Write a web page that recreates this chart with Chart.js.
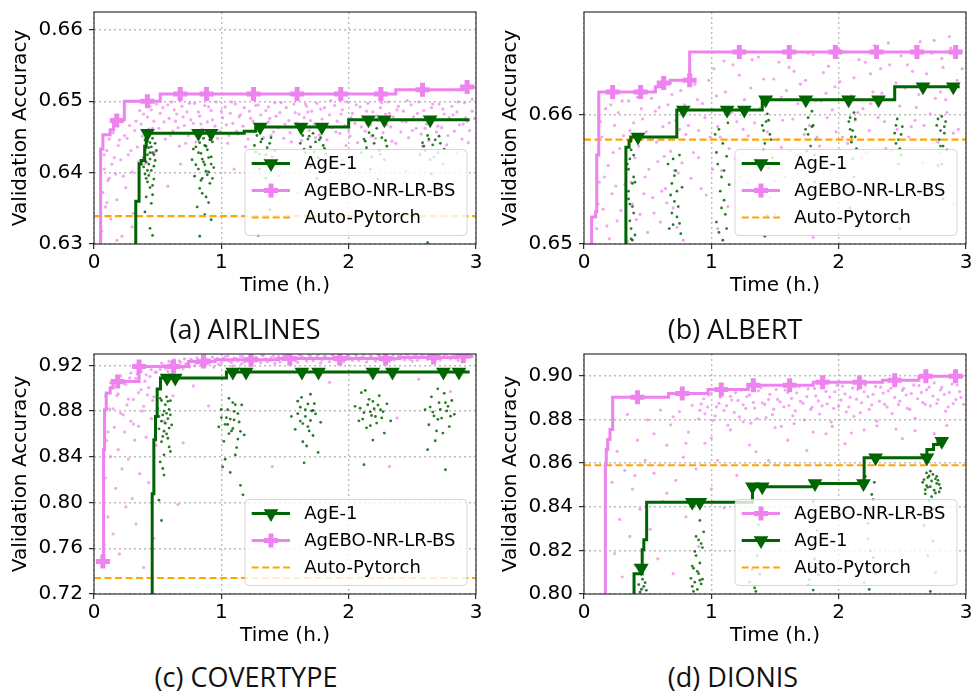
<!DOCTYPE html>
<html lang="en">
<head>
  <meta charset="UTF-8" />
  <title>Validation accuracy vs time</title>
  <script src="https://cdn.jsdelivr.net/npm/chart.js"></script>
  <style>
    body { margin: 0; background: #fff; }
    #wrap { position: relative; width: 978px; height: 694px; }
    canvas { position: absolute; }
    .cap { position: absolute; width: 300px; text-align: center; font: 27px 'Open Sans'; line-height: 27px; color: #111; white-space: nowrap; z-index: 2; }
  </style>
</head>
<body>
<div id="wrap">
  <canvas id="airlines" width="488" height="300" style="left:0;top:0"></canvas>
  <canvas id="albert" width="488" height="300" style="left:490px;top:0"></canvas>
  <canvas id="covertype" width="488" height="310" style="left:0;top:340px"></canvas>
  <canvas id="dionis" width="488" height="310" style="left:490px;top:340px"></canvas>
  <div class="cap" style="left:95px;top:315px">(a) AIRLINES</div>
  <div class="cap" style="left:585px;top:315px">(b) ALBERT</div>
  <div class="cap" style="left:96px;top:663px">(c) COVERTYPE</div>
  <div class="cap" style="left:583px;top:663px">(d) DIONIS</div>
</div>

<script>
  const xTicks = [0, 1, 2, 3];

  // ---- (a) AIRLINES ----
  const airYTicks = [0.63, 0.64, 0.65, 0.66];
  const airAuto = 0.6339;
  const airAgeSteps = [[0.328,0.62],[0.328,0.636],[0.354,0.6412],[0.37,0.6417],[0.398,0.6437],[0.41,0.6455],[1.18,0.6458],[1.27,0.6464],[1.93,0.6464],[2.0,0.6474],[2.95,0.6474]];
  const airAgeMarks = [[0.42,0.6455],[0.82,0.6455],[0.92,0.6455],[1.305,0.6464],[1.626,0.6464],[1.789,0.6464],[2.155,0.6474],[2.28,0.6474],[2.64,0.6474]];
  const airAgeboSteps = [[0.052,0.62],[0.052,0.6433],[0.07,0.6453],[0.127,0.646],[0.153,0.6474],[0.238,0.65],[0.52,0.651],[2.37,0.6516],[2.9,0.652],[2.99,0.652]];
  const airAgeboMarks = [[0.179,0.6473],[0.419,0.65],[0.677,0.651],[0.884,0.651],[1.253,0.651],[1.595,0.651],[1.938,0.651],[2.253,0.651],[2.58,0.6516],[2.93,0.652]];
  const airAgePts = [[0.39,0.6421],[0.4,0.6398],[0.41,0.6435],[0.42,0.6387],[0.43,0.6412],[0.44,0.6442],[0.45,0.6403],[0.46,0.6428],[0.47,0.6391],[0.48,0.6417],[0.4,0.6446],[0.42,0.6425],[0.44,0.6379],[0.46,0.6448],[0.41,0.6366],[0.45,0.6357],[0.43,0.6435],[0.47,0.6409],[0.49,0.6431],[0.4,0.6345],[0.44,0.6322],[0.46,0.6312],
    [0.39,0.6408],[0.4,0.6431],[0.41,0.6415],[0.42,0.6444],[0.43,0.6396],[0.44,0.6419],[0.45,0.6436],[0.46,0.6382],[0.47,0.6425],[0.48,0.6441],[0.42,0.6403],[0.44,0.6428],[0.46,0.6369],[0.41,0.6392],
    [0.77,0.6418],[0.79,0.6395],[0.8,0.6436],[0.82,0.6405],[0.83,0.6378],[0.84,0.6427],[0.85,0.6392],[0.86,0.6448],[0.87,0.6411],[0.88,0.6366],[0.89,0.6432],[0.9,0.6401],[0.91,0.6385],[0.92,0.6422],[0.93,0.6443],[0.94,0.6407],[0.81,0.6352],[0.87,0.6341],[0.9,0.6358],[0.85,0.6419],[0.88,0.6437],[0.92,0.6334],[0.83,0.6311],
    [0.78,0.6433],[0.8,0.6411],[0.82,0.6428],[0.84,0.6389],[0.86,0.6415],[0.87,0.6438],[0.89,0.6397],[0.9,0.6421],[0.91,0.6446],[0.93,0.6392],[0.85,0.6371],[0.88,0.6402],[0.92,0.6412],[0.83,0.6442],
    [1.26,0.6438],[1.28,0.6452],[1.3,0.6426],[1.32,0.6447],[1.34,0.6418],[1.36,0.6435],[1.38,0.6441],[1.4,0.6422],[1.42,0.6431],[1.3,0.6405],[1.35,0.6392],[1.33,0.6375],[1.38,0.6348],[1.29,0.6312],[1.27,0.6429],[1.31,0.6443],[1.35,0.6425],[1.39,0.6449],
    [1.62,0.6441],[1.64,0.6452],[1.66,0.6428],[1.68,0.6447],[1.7,0.6436],[1.72,0.6455],[1.74,0.6443],[1.76,0.6421],[1.78,0.6449],[1.8,0.6438],[1.82,0.6426],[1.7,0.6408],[1.75,0.6392],[1.66,0.6372],[1.65,0.6433],[1.69,0.6451],[1.73,0.6429],[1.77,0.6446],[1.81,0.6434],
    [2.1,0.6428],[2.12,0.6447],[2.14,0.6435],[2.16,0.6456],[2.18,0.6422],[2.2,0.6441],[2.22,0.6462],[2.24,0.6431],[2.26,0.6449],[2.28,0.6418],[2.3,0.6437],[2.17,0.6405],[2.23,0.6391],[2.2,0.6368],[2.13,0.6444],[2.19,0.6452],[2.25,0.6426],[2.29,0.6445],
    [2.56,0.6425],[2.58,0.6442],[2.6,0.6431],[2.62,0.6452],[2.64,0.6418],[2.66,0.6439],[2.68,0.6446],[2.7,0.6428],[2.72,0.6441],[2.74,0.6412],[2.65,0.6398],[2.7,0.6385],[2.62,0.6302],[2.59,0.6437],[2.63,0.6447],[2.67,0.6422],[2.71,0.6451],[2.75,0.6433]];
  const airAgeboPts = [[0.06,0.6318],[0.07,0.6372],[0.08,0.6405],[0.09,0.6352],[0.1,0.6431],[0.11,0.6389],[0.12,0.6447],[0.13,0.6335],[0.14,0.6412],[0.15,0.6456],[0.17,0.6398],[0.18,0.6362],[0.19,0.6438],[0.21,0.6418],[0.22,0.6311],[0.24,0.6452],[0.25,0.6379],[0.27,0.6425],[0.28,0.6466],[0.3,0.6401],[0.31,0.6343],[0.33,0.6472],[0.34,0.6436],[0.36,0.6487],[0.38,0.6451],[0.4,0.6413],[0.42,0.6478],[0.44,0.6493],[0.46,0.6462],[0.48,0.6429],
    [0.08,0.6425],[0.1,0.6358],[0.12,0.6392],[0.16,0.6421],[0.2,0.6446],[0.23,0.6395],[0.26,0.6448],[0.29,0.6431],[0.32,0.6459],[0.35,0.6415],[0.37,0.6468],[0.39,0.6482],[0.41,0.6445],[0.43,0.6461],[0.45,0.6488],[0.47,0.6472],[0.49,0.6496],[0.3,0.6324],[0.18,0.6305],
    [0.52,0.6483],[0.55,0.6471],[0.58,0.6495],[0.6,0.6452],[0.63,0.6488],[0.66,0.6463],[0.7,0.6478],[0.72,0.6441],[0.75,0.6497],[0.78,0.6469],[0.82,0.6485],[0.86,0.6455],[0.9,0.6492],[0.93,0.6474],[0.97,0.6448],[1.0,0.6486],[1.04,0.6467],[1.08,0.6499],[1.12,0.6458],[1.15,0.6481],[1.19,0.6436],[1.23,0.6476],[1.27,0.6494],[1.3,0.6463],[1.35,0.6487],[1.39,0.6452],[1.43,0.6479],[1.47,0.6498],[1.5,0.6468],[1.55,0.6443],[1.58,0.6484],[1.62,0.6461],[1.66,0.6496],[1.7,0.6473],[1.74,0.6449],[1.78,0.6489],[1.82,0.6466],[1.86,0.6501],[1.9,0.6457],[1.94,0.6482],[1.98,0.6438],[2.02,0.6477],[2.06,0.6495],[2.1,0.6464],[2.14,0.6486],[2.18,0.6451],[2.22,0.6479],[2.26,0.6498],[2.3,0.6467],[2.34,0.6444],[2.38,0.6488],[2.42,0.6472],[2.46,0.6501],[2.5,0.6459],[2.54,0.6483],[2.58,0.6437],[2.62,0.6476],[2.66,0.6496],[2.7,0.6465],[2.74,0.6489],[2.78,0.6452],[2.82,0.6481],[2.86,0.6499],[2.9,0.6468],[2.94,0.6442],[2.97,0.6486],
    [0.68,0.6412],[1.1,0.6405],[1.45,0.6395],[1.95,0.6418],[2.45,0.6402],[2.85,0.6428],[0.58,0.6381],[1.6,0.6372],[0.64,0.6472],[0.84,0.6468],[1.06,0.6452],[1.37,0.6471],[1.68,0.6485],[2.0,0.6459],[2.32,0.6483],[2.6,0.6462],[2.92,0.6477],
    [0.51,0.6462],[0.54,0.6491],[0.56,0.6447],[0.59,0.6476],[0.61,0.6499],[0.62,0.6458],[0.65,0.6482],[0.67,0.6437],[0.69,0.6493],[0.71,0.6466],[0.73,0.6485],[0.74,0.6452],[0.76,0.6474],[0.79,0.6497],[0.8,0.6443],[0.83,0.6479],[0.85,0.6461],[0.87,0.6494],[0.89,0.6471],[0.91,0.6446],[0.92,0.6487],[0.95,0.6465],[0.96,0.6499],[0.99,0.6458],[1.01,0.6477],[1.03,0.6492],[1.05,0.6441],[1.07,0.6483],[1.09,0.6469],[1.11,0.6496],[1.13,0.6454],[1.14,0.6478],[1.17,0.6465],[1.18,0.6491],[1.21,0.6447],[1.22,0.6486],[1.25,0.6472],[1.26,0.6458],[1.29,0.6495],[1.31,0.6481],[1.33,0.6449],[1.34,0.6467],[1.37,0.6492],[1.38,0.6476],[1.41,0.6457],[1.42,0.6498],[1.45,0.6463],[1.46,0.6484],[1.49,0.6448],[1.51,0.6491],[1.53,0.6473],[1.54,0.6456],[1.57,0.6496],[1.59,0.6469],[1.61,0.6482],[1.63,0.6445],[1.65,0.6477],[1.67,0.6493],[1.69,0.6459],[1.71,0.6486],[1.73,0.6468],[1.75,0.6497],[1.77,0.6453],[1.79,0.6475],[1.81,0.6491],[1.83,0.6446],[1.85,0.6481],[1.87,0.6463],[1.89,0.6494],[1.91,0.6472],[1.93,0.6455],[1.95,0.6488],[1.97,0.6466],[1.99,0.6499],[2.01,0.6451],[2.03,0.6483],[2.05,0.6469],[2.07,0.6442],[2.09,0.6492],[2.11,0.6476],[2.13,0.6458],[2.15,0.6497],[2.17,0.6467],[2.19,0.6485],[2.21,0.6448],[2.23,0.6473],[2.25,0.6491],[2.27,0.6456],[2.29,0.6482],[2.31,0.6499],[2.33,0.6464],[2.35,0.6478],[2.37,0.6441],[2.39,0.6493],[2.41,0.6457],[2.43,0.6486],[2.45,0.6471],[2.47,0.6449],[2.49,0.6495],[2.51,0.6478],[2.53,0.6462],[2.55,0.6499],[2.57,0.6454],[2.59,0.6487],[2.61,0.6468],[2.63,0.6445],[2.65,0.6491],[2.67,0.6474],[2.69,0.6457],[2.71,0.6496],[2.73,0.6463],[2.75,0.6482],[2.77,0.6439],[2.79,0.6477],[2.81,0.6493],[2.83,0.6458],[2.85,0.6485],[2.87,0.6467],[2.89,0.6447],[2.91,0.6498],[2.93,0.6472],[2.95,0.6459],[2.97,0.6503],[2.99,0.6476]];

  // ---- (b) ALBERT ----
  const albYTicks = [0.65, 0.66];
  const albAuto = 0.6581;
  const albAgeSteps = [[0.329,0.64],[0.329,0.6575],[0.354,0.658],[0.367,0.6583],[0.729,0.6604],[1.4,0.6612],[2.44,0.6622],[2.95,0.6622]];
  const albAgeMarks = [[0.424,0.6583],[0.78,0.6604],[1.124,0.6604],[1.259,0.6604],[1.426,0.6612],[1.742,0.6612],[2.078,0.6612],[2.313,0.6612],[2.662,0.6622],[2.9,0.6622]];
  const albAgeboSteps = [[0.06,0.64],[0.06,0.6521],[0.091,0.6525],[0.1,0.6569],[0.116,0.6618],[0.561,0.6622],[0.612,0.6625],[0.677,0.6627],[0.83,0.6649],[2.97,0.6649]];
  const albAgeboMarks = [[0.225,0.6618],[0.445,0.6618],[0.626,0.6625],[0.83,0.6627],[1.22,0.6649],[1.612,0.6649],[1.974,0.6649],[2.297,0.6649],[2.615,0.6649],[2.918,0.6649]];
  const albAgePts = [[0.34,0.6562],[0.35,0.6541],[0.36,0.6518],[0.37,0.6573],[0.38,0.6529],[0.39,0.6552],[0.4,0.6507],[0.36,0.6566],[0.38,0.6503],[0.35,0.6535],[0.4,0.6548],[0.37,0.6512],[0.39,0.6524],[0.35,0.6558],[0.36,0.6531],[0.38,0.6547],[0.39,0.6569],[0.37,0.6504],
    [0.66,0.6562],[0.68,0.6538],[0.7,0.6515],[0.72,0.6557],[0.74,0.6529],[0.76,0.6508],[0.69,0.6547],[0.73,0.6521],[0.75,0.6569],[0.71,0.6533],[0.67,0.6512],[0.77,0.6544],[0.69,0.6524],[0.71,0.6553],[0.73,0.6541],[0.75,0.6516],[0.7,0.6566],
    [1.03,0.6585],[1.05,0.6562],[1.07,0.6541],[1.09,0.6578],[1.11,0.6523],[1.13,0.6594],[1.06,0.6509],[1.08,0.6552],[1.1,0.6534],[1.12,0.6568],[1.04,0.6517],[1.14,0.6546],[1.09,0.6503],[1.04,0.6571],[1.06,0.6589],[1.08,0.6528],[1.1,0.6557],[1.12,0.6512],
    [1.4,0.6592],[1.42,0.6578],[1.44,0.6601],[1.46,0.6585],[1.48,0.6567],[1.43,0.6595],[1.45,0.6559],[1.41,0.6573],[1.47,0.6541],[1.44,0.6522],[1.42,0.6506],[1.41,0.6588],[1.43,0.6564],[1.45,0.6596],[1.47,0.6581],
    [1.74,0.6589],[1.76,0.6598],[1.78,0.6576],[1.8,0.6592],[1.82,0.6581],[1.77,0.6565],[1.79,0.6603],[1.75,0.6572],[1.81,0.6548],[1.78,0.6518],[1.76,0.6585],[1.79,0.6591],[1.81,0.6569],
    [2.08,0.6595],[2.1,0.6583],[2.12,0.6602],[2.14,0.6574],[2.09,0.6589],[2.11,0.6566],[2.13,0.6597],[2.1,0.6579],[2.12,0.6552],[2.09,0.6528],[2.09,0.6598],[2.11,0.6588],[2.13,0.6583],
    [2.44,0.6586],[2.46,0.6597],[2.48,0.6574],[2.5,0.6591],[2.45,0.6578],[2.47,0.6562],[2.49,0.6585],[2.46,0.6545],[2.48,0.6512],[2.45,0.6592],[2.47,0.6581],[2.49,0.6569],
    [2.77,0.6592],[2.79,0.6581],[2.81,0.6599],[2.83,0.6586],[2.85,0.6573],[2.8,0.6588],[2.82,0.6576],[2.84,0.6595],[2.78,0.6561],[2.82,0.6535],[2.78,0.6597],[2.8,0.6576],[2.83,0.6591],[2.81,0.6562]];
  const albAgeboPts = [[0.1,0.6512],[0.12,0.6548],[0.14,0.6583],[0.15,0.6527],[0.17,0.6605],[0.19,0.6561],[0.2,0.6504],[0.22,0.6539],[0.24,0.6592],[0.26,0.6518],[0.28,0.6574],[0.3,0.6611],[0.32,0.6546],[0.34,0.6502],[0.36,0.6588],[0.38,0.6531],[0.4,0.6567],[0.42,0.6614],[0.44,0.6523],[0.46,0.6597],[0.48,0.6552],[0.5,0.6509],[0.52,0.6581],[0.54,0.6536],[0.56,0.6603],[0.58,0.6564],[0.6,0.6517],[0.62,0.6591],[0.64,0.6543],[0.66,0.6608],[0.68,0.6572],[0.7,0.6528],[0.72,0.6596],[0.74,0.6555],[0.76,0.6619],[0.78,0.6503],[0.8,0.6585],
    [0.11,0.6531],[0.13,0.6595],[0.16,0.6552],[0.18,0.6514],[0.21,0.6608],[0.23,0.6571],[0.25,0.6545],[0.27,0.6602],[0.29,0.6526],[0.31,0.6584],[0.33,0.6563],[0.35,0.6611],[0.37,0.6548],[0.39,0.6594],[0.41,0.6519],[0.43,0.6576],[0.45,0.6605],[0.47,0.6539],[0.49,0.6587],[0.51,0.6558],[0.53,0.6613],[0.55,0.6524],[0.57,0.6579],[0.59,0.6606],[0.61,0.6541],[0.63,0.6568],[0.65,0.6532],[0.67,0.6594],[0.69,0.6616],[0.71,0.6557],[0.73,0.6513],[0.75,0.6589],[0.77,0.6563],[0.79,0.6608],
    [0.83,0.6634],[0.86,0.6571],[0.89,0.6612],[0.92,0.6543],[0.95,0.6598],[0.98,0.6627],[1.01,0.6558],[1.04,0.6615],[1.07,0.6583],[1.1,0.6642],[1.13,0.6529],[1.16,0.6602],[1.19,0.6566],[1.22,0.6631],[1.25,0.6589],[1.28,0.6547],[1.31,0.6621],[1.34,0.6594],[1.37,0.6645],[1.4,0.6562],[1.43,0.6608],[1.46,0.6536],[1.49,0.6628],[1.52,0.6581],[1.55,0.6614],[1.58,0.6552],[1.61,0.6637],[1.64,0.6597],[1.67,0.6569],[1.7,0.6624],[1.73,0.6585],[1.76,0.6648],[1.79,0.6541],[1.82,0.6611],[1.85,0.6576],[1.88,0.6633],[1.91,0.6598],[1.94,0.6557],[1.97,0.6622],[2.0,0.6651],[2.03,0.6583],[2.06,0.6614],[2.09,0.6538],[2.12,0.6629],[2.15,0.6602],[2.18,0.6567],[2.21,0.6641],[2.24,0.6588],[2.27,0.6618],[2.3,0.6551],[2.33,0.6636],[2.36,0.6595],[2.39,0.6656],[2.42,0.6572],[2.45,0.6625],[2.48,0.6607],[2.51,0.6544],[2.54,0.6639],[2.57,0.6591],[2.6,0.6653],[2.63,0.6616],[2.66,0.6563],[2.69,0.6632],[2.72,0.6601],[2.75,0.6658],[2.78,0.6579],[2.81,0.6644],[2.84,0.6612],[2.87,0.6661],[2.9,0.6586],[2.93,0.6627],[2.96,0.6649],
    [1.05,0.6512],[1.5,0.6523],[2.0,0.6508],[2.5,0.6519],[2.9,0.6531],[1.8,0.6505],[0.9,0.6588],[1.2,0.6604],[1.55,0.6575],[1.9,0.6617],[2.25,0.6609],[2.6,0.6596],[2.8,0.6618],
    [0.82,0.6592],[0.84,0.6551],[0.87,0.6624],[0.9,0.6567],[0.93,0.6609],[0.96,0.6538],[0.99,0.6583],[1.02,0.6636],[1.05,0.6591],[1.08,0.6557],[1.11,0.6618],[1.14,0.6574],[1.17,0.6639],[1.2,0.6595],[1.23,0.6552],[1.26,0.6612],[1.29,0.6584],[1.32,0.6643],[1.35,0.6566],[1.38,0.6605],[1.41,0.6628],[1.44,0.6587],[1.47,0.6614],[1.5,0.6549],[1.53,0.6641],[1.56,0.6596],[1.59,0.6619],[1.62,0.6572],[1.65,0.6634],[1.68,0.6609],[1.71,0.6558],[1.74,0.6627],[1.77,0.6592],[1.8,0.6647],[1.83,0.6583],[1.86,0.6611],[1.89,0.6562],[1.92,0.6638],[1.95,0.6604],[1.98,0.6587],[2.01,0.6626],[2.04,0.6649],[2.07,0.6578],[2.1,0.6615],[2.13,0.6596],[2.16,0.6643],[2.19,0.6605],[2.22,0.6571],[2.25,0.6632],[2.28,0.6654],[2.31,0.6598],[2.34,0.6617],[2.37,0.6574],[2.4,0.6639],[2.43,0.6612],[2.46,0.6589],[2.49,0.6646],[2.52,0.6621],[2.55,0.6583],[2.58,0.6634],[2.61,0.6606],[2.64,0.6657],[2.67,0.6592],[2.7,0.6624],[2.73,0.6648],[2.76,0.6613],[2.79,0.6571],[2.82,0.6637],[2.85,0.6602],[2.88,0.6652],[2.91,0.6619],[2.94,0.6589],[2.97,0.6636]];

  // ---- (c) COVERTYPE ----
  const covYTicks = [0.72, 0.76, 0.80, 0.84, 0.88, 0.92];
  const covAuto = 0.734;
  const covAgeSteps = [[0.457,0.70],[0.457,0.8078],[0.47,0.855],[0.483,0.8754],[0.496,0.8994],[0.522,0.909],[1.04,0.9142],[2.95,0.9142]];
  const covAgeMarks = [[0.574,0.909],[0.638,0.909],[1.09,0.9142],[1.194,0.9142],[1.633,0.9142],[1.763,0.9142],[2.19,0.9142],[2.344,0.9142],[2.744,0.9142],[2.866,0.9142]];
  const covAgeboSteps = [[0.07,0.7485],[0.075,0.8462],[0.083,0.8813],[0.096,0.8959],[0.127,0.9002],[0.15,0.906],[0.354,0.9191],[0.742,0.9235],[0.95,0.925],[1.45,0.926],[2.4,0.927],[2.85,0.928],[2.98,0.928]];
  const covAgeboMarks = [[0.07,0.7485],[0.186,0.906],[0.354,0.9191],[0.625,0.9191],[0.86,0.9235],[1.233,0.925],[1.538,0.926],[1.93,0.926],[2.29,0.926],[2.667,0.927],[2.9,0.928]];
  const covAgePts = [[0.5,0.8823],[0.51,0.8645],[0.52,0.8912],[0.53,0.8532],[0.54,0.8767],[0.55,0.8418],[0.56,0.8856],[0.57,0.8601],[0.58,0.8734],[0.59,0.8487],[0.6,0.8892],[0.61,0.8679],[0.52,0.8356],[0.55,0.8801],[0.57,0.8925],[0.53,0.8712],[0.58,0.8563],[0.6,0.8447],[0.54,0.8298],[0.56,0.8694],[0.59,0.8815],[0.51,0.8021],[0.53,0.7843],[0.55,0.8241],
    [0.51,0.8754],[0.53,0.8893],[0.55,0.8625],[0.57,0.8781],[0.59,0.8652],[0.6,0.8768],[0.54,0.8579],[0.58,0.8886],
    [0.98,0.8662],[1.0,0.8815],[1.02,0.8536],[1.04,0.8743],[1.06,0.8912],[1.08,0.8627],[1.1,0.8798],[1.12,0.8481],[1.14,0.8705],[1.16,0.8854],[1.18,0.8592],[1.03,0.8379],[1.07,0.8264],[1.11,0.8417],[1.15,0.8151],[1.05,0.8683],[1.09,0.8875],[1.13,0.8556],[1.01,0.8312],[1.17,0.8068],[1.1,0.8723],[1.06,0.8604],
    [1.0,0.8744],[1.03,0.8685],[1.05,0.8812],[1.07,0.8731],[1.09,0.8648],[1.11,0.8857],[1.13,0.8779],[1.15,0.8623],
    [1.55,0.8754],[1.58,0.8641],[1.6,0.8887],[1.62,0.8713],[1.64,0.8532],[1.66,0.8812],[1.68,0.8665],[1.7,0.8948],[1.72,0.8587],[1.74,0.8776],[1.76,0.8439],[1.78,0.8702],[1.63,0.8921],[1.67,0.8495],[1.71,0.8802],[1.65,0.8348],[1.69,0.8627],[1.73,0.8865],
    [1.6,0.8778],[1.62,0.8835],[1.64,0.8691],[1.66,0.8754],[1.68,0.8863],[1.7,0.8718],[1.72,0.8806],
    [2.05,0.8842],[2.08,0.8715],[2.1,0.8962],[2.12,0.8787],[2.14,0.8654],[2.16,0.8903],[2.18,0.8762],[2.2,0.8821],[2.22,0.8696],[2.24,0.8935],[2.26,0.8741],[2.28,0.8608],[2.3,0.8864],[2.19,0.8547],[2.13,0.8981],[2.23,0.8853],[2.17,0.8673],[2.27,0.8795],[2.12,0.8332],[2.33,0.8714],
    [2.09,0.8826],[2.11,0.8731],[2.15,0.8857],[2.17,0.8794],[2.19,0.8886],[2.21,0.8753],[2.25,0.8812],
    [2.6,0.8812],[2.63,0.8681],[2.65,0.8925],[2.67,0.8758],[2.69,0.8627],[2.71,0.8874],[2.73,0.8739],[2.75,0.8956],[2.77,0.8802],[2.79,0.8665],[2.81,0.8893],[2.83,0.8772],[2.68,0.8541],[2.74,0.8608],[2.7,0.8995],[2.78,0.8842],[2.62,0.8463],[2.76,0.8287],
    [2.64,0.8836],[2.66,0.8792],[2.7,0.8728],[2.72,0.8815],[2.76,0.8874],[2.8,0.8756]];
  const covAgeboPts = [[0.08,0.7632],[0.09,0.8215],[0.1,0.8543],[0.11,0.7874],[0.12,0.8821],[0.13,0.8402],[0.14,0.9012],[0.15,0.7725],[0.16,0.8658],[0.17,0.8125],[0.18,0.8936],[0.19,0.8463],[0.2,0.7551],[0.21,0.8782],[0.22,0.8294],[0.23,0.9043],[0.24,0.8617],[0.25,0.7963],[0.26,0.8854],[0.27,0.8381],[0.28,0.9091],[0.29,0.8712],[0.3,0.8035],[0.31,0.8902],[0.32,0.8546],[0.33,0.7812],[0.34,0.9124],[0.35,0.8668],[0.36,0.8253],[0.37,0.8987],[0.38,0.8801],[0.39,0.7432],[0.4,0.9062],[0.41,0.8572],[0.42,0.8942],[0.43,0.8175],[0.44,0.9103],[0.45,0.8734],[0.46,0.8893],[0.47,0.7688],[0.48,0.9141],[0.49,0.8502],
    [0.09,0.8934],[0.11,0.8618],[0.13,0.9048],[0.15,0.8821],[0.17,0.9072],[0.19,0.8952],[0.21,0.9108],[0.23,0.8768],[0.25,0.9035],[0.27,0.8906],[0.29,0.9134],[0.31,0.8687],[0.33,0.9087],[0.35,0.8962],[0.37,0.9152],[0.39,0.8843],[0.41,0.9118],[0.43,0.9006],[0.45,0.9163],[0.47,0.8925],[0.49,0.9142],
    [0.52,0.9165],[0.55,0.9202],[0.58,0.9148],[0.61,0.9221],[0.64,0.9183],[0.67,0.9239],[0.7,0.9172],[0.73,0.9211],[0.76,0.9253],[0.79,0.9195],[0.82,0.9234],[0.85,0.9268],[0.88,0.9206],[0.91,0.9247],[0.94,0.9185],[0.97,0.9262],[1.0,0.9224],[1.03,0.9275],[1.06,0.9238],[1.09,0.9196],[1.12,0.9259],[1.15,0.9281],[1.18,0.9229],[1.21,0.9265],[1.24,0.9212],[1.27,0.9273],[1.3,0.9245],[1.33,0.9286],[1.36,0.9232],[1.39,0.9268],[1.42,0.9218],[1.45,0.9279],[1.48,0.9251],[1.51,0.9289],[1.54,0.9236],[1.57,0.9271],[1.6,0.9226],[1.63,0.9284],[1.66,0.9257],[1.69,0.9292],[1.72,0.9241],[1.75,0.9276],[1.78,0.9222],[1.81,0.9283],[1.84,0.9262],[1.87,0.9295],[1.9,0.9247],[1.93,0.9278],[1.96,0.9231],[1.99,0.9288],[2.02,0.9264],[2.05,0.9297],[2.08,0.9243],[2.11,0.9274],[2.14,0.9229],[2.17,0.9286],[2.2,0.9258],[2.23,0.9293],[2.26,0.9246],[2.29,0.9277],[2.32,0.9235],[2.35,0.9289],[2.38,0.9261],[2.41,0.9296],[2.44,0.9249],[2.47,0.9281],[2.5,0.9238],[2.53,0.9291],[2.56,0.9266],[2.59,0.9298],[2.62,0.9252],[2.65,0.9284],[2.68,0.9241],[2.71,0.9293],[2.74,0.9269],[2.77,0.9299],[2.8,0.9256],[2.83,0.9287],[2.86,0.9244],[2.89,0.9295],[2.92,0.9272],[2.95,0.9298],
    [0.51,0.9188],[0.53,0.9221],[0.56,0.9175],[0.59,0.9236],[0.6,0.9204],[0.63,0.9249],[0.65,0.9192],[0.68,0.9228],[0.71,0.9257],[0.72,0.9213],[0.75,0.9186],[0.77,0.9242],[0.8,0.9219],[0.81,0.9266],[0.84,0.9201],[0.86,0.9238],[0.89,0.9255],[0.9,0.9217],[0.93,0.9272],[0.95,0.9233],[0.98,0.9209],[1.01,0.9261],[1.02,0.9244],[1.05,0.9283],[1.08,0.9227],[1.1,0.9266],[1.13,0.9239],[1.16,0.9214],[1.17,0.9276],[1.2,0.9251],[1.23,0.9288],[1.25,0.9236],[1.28,0.9262],[1.31,0.9224],[1.32,0.9291],[1.35,0.9258],[1.38,0.9243],[1.41,0.9282],[1.43,0.9265],[1.46,0.9229],[1.49,0.9287],[1.52,0.9254],[1.55,0.9276],[1.58,0.9241],[1.61,0.9293],[1.64,0.9268],[1.67,0.9237],[1.7,0.9281],[1.73,0.9259],[1.76,0.9294],[1.79,0.9248],[1.82,0.9272],[1.85,0.9233],[1.88,0.9286],[1.91,0.9263],[1.94,0.9297],[1.97,0.9252],[2.0,0.9279],[2.03,0.9244],[2.06,0.9285],[2.09,0.9268],[2.12,0.9295],[2.15,0.9256],[2.18,0.9274],[2.21,0.9239],[2.24,0.9289],[2.27,0.9262],[2.3,0.9296],[2.33,0.9271],[2.36,0.9248],[2.39,0.9283],[2.42,0.9265],[2.45,0.9298],[2.48,0.9253],[2.51,0.9279],[2.54,0.9245],[2.57,0.9288],[2.6,0.9271],[2.63,0.9297],[2.66,0.9259],[2.69,0.9282],[2.72,0.9248],[2.75,0.9291],[2.78,0.9274],[2.81,0.9298],[2.84,0.9263],[2.87,0.9285],[2.9,0.9252],[2.93,0.9289],[2.96,0.9275],
    [0.55,0.8712],[0.62,0.8934],[0.7,0.8523],[0.78,0.9021],[0.9,0.8845],[1.4,0.8315],[1.85,0.9052],[2.32,0.8316],[2.38,0.8741],[2.55,0.9078],[2.8,0.8972],[0.66,0.7985]];

  // ---- (d) DIONIS ----
  const dioYTicks = [0.80, 0.82, 0.84, 0.86, 0.88, 0.90];
  const dioAuto = 0.859;
  const dioAgeSteps = [[0.393,0.79],[0.393,0.8093],[0.457,0.8203],[0.47,0.8249],[0.492,0.842],[1.323,0.8491],[1.814,0.8506],[2.2,0.8624],[2.693,0.8662],[2.745,0.8685],[2.78,0.87],[2.82,0.87]];
  const dioAgeMarks = [[0.45,0.8119],[0.85,0.842],[0.91,0.842],[1.323,0.8491],[1.40,0.8491],[1.814,0.8506],[2.195,0.8506],[2.29,0.8624],[2.693,0.8624],[2.81,0.87]];
  const dioAgeboSteps = [[0.168,0.79],[0.168,0.8593],[0.175,0.8662],[0.186,0.8708],[0.204,0.8754],[0.225,0.8902],[0.664,0.8919],[0.974,0.8937],[1.29,0.8957],[1.8,0.8971],[2.344,0.898],[2.63,0.8998],[2.98,0.8998]];
  const dioAgeboMarks = [[0.42,0.8902],[0.772,0.8919],[1.078,0.8937],[1.33,0.8957],[1.615,0.8957],[1.874,0.8971],[2.163,0.8971],[2.44,0.898],[2.685,0.8998],[2.918,0.8998]];
  const dioAgePts = [[0.43,0.8043],[0.45,0.8021],[0.46,0.8068],[0.47,0.8035],[0.48,0.8052],[0.44,0.8009],[0.49,0.8017],
    [0.84,0.8072],[0.85,0.8035],[0.86,0.8118],[0.87,0.8054],[0.88,0.8176],[0.89,0.8021],[0.9,0.8093],[0.91,0.8142],[0.92,0.8046],[0.93,0.8213],[0.94,0.8285],[0.88,0.8264],[0.91,0.8337],[0.86,0.8012],[0.9,0.8248],[0.93,0.8068],
    [0.85,0.8128],[0.87,0.8195],[0.89,0.8104],[0.91,0.8063],[0.92,0.8231],
    [1.3,0.8054],[1.32,0.8112],[1.34,0.8028],[1.36,0.8176],[1.38,0.8091],[1.33,0.8243],[1.35,0.8012],[1.37,0.8317],
    [1.76,0.8043],[1.78,0.8125],[1.8,0.8018],[1.82,0.8234],[1.84,0.8087],[1.79,0.8352],[1.81,0.8161],[1.83,0.8292],[1.77,0.8065],[1.8,0.8423],[1.77,0.8142],[1.79,0.8215],[1.83,0.8118],
    [2.2,0.8053],[2.22,0.8134],[2.24,0.8021],[2.26,0.8456],[2.28,0.8512],[2.23,0.8253],[2.25,0.8395],[2.27,0.8167],[2.21,0.8538],[2.29,0.8094],[2.23,0.8324],[2.25,0.8198],[2.27,0.8432],
    [2.66,0.8512],[2.68,0.8478],[2.7,0.8534],[2.72,0.8492],[2.74,0.8548],[2.76,0.8463],[2.78,0.8521],[2.8,0.8485],[2.69,0.8555],[2.73,0.8446],[2.77,0.8507],[2.71,0.8427],[2.75,0.8391],[2.79,0.8468],[2.67,0.8315],[2.74,0.8243],[2.7,0.8176],[2.76,0.8098],[2.72,0.8012],
    [2.67,0.8524],[2.69,0.8497],[2.71,0.8541],[2.73,0.8518],[2.75,0.8476],[2.77,0.8539],[2.79,0.8502],[2.68,0.8459],[2.72,0.8563],[2.76,0.8528],[2.7,0.8489]];
  const dioAgeboPts = [[0.22,0.8512],[0.24,0.8185],[0.26,0.8654],[0.28,0.8342],[0.3,0.8078],[0.32,0.8567],[0.34,0.8823],[0.36,0.8264],[0.38,0.8481],[0.4,0.8132],[0.42,0.8705],[0.44,0.8389],[0.46,0.8026],[0.48,0.8612],[0.5,0.8798],[0.52,0.8297],[0.55,0.8554],[0.58,0.8161],[0.6,0.8843],[0.62,0.8425],[0.65,0.8682],[0.68,0.8775],[0.7,0.8093],[0.72,0.8521],[0.75,0.8836],[0.78,0.8627],[0.8,0.8354],[0.82,0.8742],[0.85,0.8865],[0.88,0.8573],[0.9,0.8218],[0.95,0.8691],[1.0,0.8482],[1.05,0.8612],[1.1,0.8395],[1.2,0.8544],[1.3,0.8683],[1.45,0.8612],[1.6,0.8705],[1.75,0.8658],[1.9,0.8734],[2.05,0.8689],[2.2,0.8752],[2.5,0.8712],[2.75,0.8735],
    [0.4,0.8543],[0.55,0.8734],[0.65,0.8462],[0.7,0.8812],[0.8,0.8691],[0.9,0.8803],[1.0,0.8715],[1.15,0.8752],[1.25,0.8789],[1.35,0.8652],[1.5,0.8763],[1.65,0.8781],[1.8,0.8742],[1.95,0.8768],[2.1,0.8738],[2.3,0.8771],[2.45,0.8756],[2.6,0.8749],[2.85,0.8772],
    [0.92,0.8871],[0.95,0.8826],[0.98,0.8912],[1.01,0.8795],[1.04,0.8858],[1.07,0.8902],[1.1,0.8841],[1.13,0.8774],[1.16,0.8889],[1.19,0.8923],[1.22,0.8812],[1.25,0.8867],[1.28,0.8905],[1.31,0.8783],[1.34,0.8852],[1.37,0.8931],[1.4,0.8876],[1.43,0.8809],[1.46,0.8915],[1.49,0.8847],[1.52,0.8892],[1.55,0.8768],[1.58,0.8935],[1.61,0.8864],[1.64,0.8817],[1.67,0.8922],[1.7,0.8883],[1.73,0.8798],[1.76,0.8941],[1.79,0.8856],[1.82,0.8908],[1.85,0.8825],[1.88,0.8946],[1.91,0.8872],[1.94,0.8789],[1.97,0.8927],[2.0,0.8861],[2.03,0.8953],[2.06,0.8835],[2.09,0.8902],[2.12,0.8814],[2.15,0.8938],[2.18,0.8877],[2.21,0.8957],[2.24,0.8846],[2.27,0.8915],[2.3,0.8792],[2.33,0.8948],[2.36,0.8869],[2.39,0.8931],[2.42,0.8827],[2.45,0.8962],[2.48,0.8884],[2.51,0.8942],[2.54,0.8851],[2.57,0.8918],[2.6,0.8805],[2.63,0.8955],[2.66,0.8878],[2.69,0.8936],[2.72,0.8862],[2.75,0.8968],[2.78,0.8891],[2.81,0.8947],[2.84,0.8838],[2.87,0.8924],[2.9,0.8873],[2.93,0.8958],[2.96,0.8901],
    [0.91,0.8842],[0.94,0.8895],[0.97,0.8857],[1.0,0.8921],[1.03,0.8816],[1.06,0.8874],[1.09,0.8928],[1.12,0.8863],[1.15,0.8906],[1.18,0.8832],[1.21,0.8887],[1.24,0.8935],[1.27,0.8851],[1.3,0.8913],[1.33,0.8878],[1.36,0.8804],[1.39,0.8946],[1.42,0.8869],[1.45,0.8892],[1.48,0.8822],[1.51,0.8937],[1.54,0.8881],[1.57,0.8858],[1.6,0.8924],[1.63,0.8897],[1.66,0.8839],[1.69,0.8951],[1.72,0.8874],[1.75,0.8905],[1.78,0.8846],[1.81,0.8942],[1.84,0.8885],[1.87,0.8862],[1.9,0.8929],[1.93,0.8903],[1.96,0.8851],[1.99,0.8956],[2.02,0.8889],[2.05,0.8917],[2.08,0.8858],[2.11,0.8944],[2.14,0.8893],[2.17,0.8831],[2.2,0.8927],[2.23,0.8905],[2.26,0.8867],[2.29,0.8952],[2.32,0.8884],[2.35,0.8921],[2.38,0.8857],[2.41,0.8943],[2.44,0.8901],[2.47,0.8868],[2.5,0.8933],[2.53,0.8912],[2.56,0.8846],[2.59,0.8957],[2.62,0.8895],[2.65,0.8924],[2.68,0.8869],[2.71,0.8948],[2.74,0.8907],[2.77,0.8873],[2.8,0.8936],[2.83,0.8915],[2.86,0.8858],[2.89,0.8962],[2.92,0.8891],[2.95,0.8928],[2.98,0.8869]];

  const GREEN = '#006400', PINK = '#ee82ee', ORANGE = '#ffa500';
  const xy = a => a.map(([x, y]) => ({ x, y }));

  Chart.defaults.font.family = "'DejaVu Sans', sans-serif";
  Chart.defaults.color = '#000';

  const KEY = {
    age: { label: 'AgE-1', color: GREEN, lw: 3, marker: 'tri' },
    agebo: { label: 'AgEBO-NR-LR-BS', color: PINK, lw: 3, marker: 'plus' },
    auto: { label: 'Auto-Pytorch', color: ORANGE, lw: 2.2, dash: [7, 3.5] }
  };

  function drawMarker(ctx, kind, x, y, color) {
    ctx.save();
    if (kind === 'tri') {
      const r = 8.5;
      ctx.fillStyle = color;
      ctx.beginPath();
      ctx.moveTo(x, y + r);
      ctx.lineTo(x - r * 0.866, y - r / 2);
      ctx.lineTo(x + r * 0.866, y - r / 2);
      ctx.closePath();
      ctx.fill();
    } else if (kind === 'plus') {
      ctx.strokeStyle = color;
      ctx.lineWidth = 5;
      ctx.beginPath();
      ctx.moveTo(x - 7, y); ctx.lineTo(x + 7, y);
      ctx.moveTo(x, y - 7); ctx.lineTo(x, y + 7);
      ctx.stroke();
    }
    ctx.restore();
  }

  function framePlugin(keys) {
    return {
      id: 'frameKey',
      afterDatasetsDraw(chart) {
        const { ctx, chartArea: a } = chart;
        ctx.save();
        ctx.strokeStyle = '#222';
        ctx.lineWidth = 1.1;
        ctx.strokeRect(a.left, a.top, a.right - a.left, a.bottom - a.top);

        // legend box, lower right
        const w = 222, h = 86;
        const bx = a.right - 9 - w, by = a.bottom - 8.5 - h;
        ctx.beginPath();
        ctx.roundRect(bx, by, w, h, 4);
        ctx.fillStyle = 'rgba(255,255,255,0.8)';
        ctx.fill();
        ctx.strokeStyle = 'rgba(204,204,204,0.8)';
        ctx.lineWidth = 1;
        ctx.stroke();
        keys.forEach((k, i) => {
          const it = KEY[k];
          const cy = by + 14 + i * 27;
          ctx.beginPath();
          ctx.setLineDash(it.dash || []);
          ctx.strokeStyle = it.color;
          ctx.lineWidth = it.lw;
          ctx.moveTo(bx + 6.7, cy);
          ctx.lineTo(bx + 45, cy);
          ctx.stroke();
          ctx.setLineDash([]);
          if (it.marker) drawMarker(ctx, it.marker, bx + 26, cy, it.color);
          ctx.fillStyle = '#000';
          ctx.font = "18px 'DejaVu Sans'";
          ctx.textBaseline = 'middle';
          ctx.textAlign = 'left';
          ctx.fillText(it.label, bx + 59.3, cy + 1);
        });
        ctx.restore();
      }
    };
  }

  function zeroPad(s) {
    s.paddingTop = 0; s.paddingBottom = 0; s.paddingLeft = 0; s.paddingRight = 0;
  }

  function makePanel(id, p) {
    const gridOpts = { color: 'rgba(176,176,176,0.85)', lineWidth: 1.4, tickColor: '#000', tickLength: 5, tickWidth: 1, tickBorderDash: [] };
    new Chart(document.getElementById(id), {
      type: 'line',
      data: {
        datasets: [
          { label: 'AgE-1', data: xy(p.ageMarks), showLine: false, pointStyle: 'triangle', pointRotation: 180, pointRadius: 8.5, pointBackgroundColor: GREEN, pointBorderColor: GREEN, pointBorderWidth: 0, order: 1 },
          { label: 'AgE-1 best', data: xy(p.ageSteps), stepped: true, borderColor: GREEN, borderWidth: 3, pointRadius: 0, fill: false, order: 2 },
          { label: 'AgEBO-NR-LR-BS', data: xy(p.ageboMarks), showLine: false, pointStyle: 'cross', pointRadius: 7, pointBorderColor: PINK, pointBackgroundColor: PINK, pointBorderWidth: 5, order: 3 },
          { label: 'AgEBO-NR-LR-BS best', data: xy(p.ageboSteps), stepped: true, borderColor: PINK, borderWidth: 3, pointRadius: 0, fill: false, order: 4 },
          { label: 'Auto-Pytorch', data: [{ x: 0, y: p.auto }, { x: 3, y: p.auto }], borderColor: ORANGE, borderWidth: 2.2, borderDash: [7, 3.5], pointRadius: 0, fill: false, order: 5 },
          { label: 'AgE-1 runs', data: xy(p.agePts), showLine: false, pointRadius: 1.4, pointBackgroundColor: 'rgba(0,100,0,0.85)', pointBorderWidth: 0, order: 6 },
          { label: 'AgEBO runs', data: xy(p.ageboPts), showLine: false, pointRadius: 1.6, pointBackgroundColor: 'rgba(238,130,238,0.72)', pointBorderWidth: 0, order: 7 }
        ]
      },
      options: {
        responsive: false,
        animation: false,
        events: [],
        layout: { padding: { left: 0, right: 7, top: p.padTop, bottom: 0 } },
        plugins: { legend: { display: false }, tooltip: { enabled: false } },
        scales: {
          x: {
            type: 'linear', min: 0, max: 3,
            afterBuildTicks: s => { s.ticks = xTicks.map(v => ({ value: v })); },
            afterFit: s => { s.height = 56; zeroPad(s); },
            ticks: { font: { size: 20 }, padding: 2, maxRotation: 0, autoSkip: false, callback: v => String(v) },
            grid: gridOpts,
            border: { display: false, dash: [2, 3] },
            title: { display: true, text: 'Time (h.)', font: { size: 20 }, padding: { top: 0, bottom: 2 } }
          },
          y: {
            type: 'linear', min: p.yMin, max: p.yMax,
            afterBuildTicks: s => { s.ticks = p.yTicks.map(v => ({ value: v })); },
            afterFit: s => { s.width = 94; zeroPad(s); },
            ticks: { font: { size: 20 }, padding: 6, autoSkip: false, callback: v => v.toFixed(2) },
            grid: gridOpts,
            border: { display: false, dash: [2, 3] },
            title: { display: true, text: 'Validation Accuracy', font: { size: 20 }, padding: { top: 9, bottom: 0 } }
          }
        }
      },
      plugins: [framePlugin(p.keys)]
    });
  }

  makePanel('airlines', { yTicks: airYTicks, yMin: 0.63, yMax: 0.6625, padTop: 6, auto: airAuto,
    ageSteps: airAgeSteps, ageMarks: airAgeMarks, ageboSteps: airAgeboSteps, ageboMarks: airAgeboMarks,
    agePts: airAgePts, ageboPts: airAgeboPts, keys: ['age', 'agebo', 'auto'] });
  makePanel('albert', { yTicks: albYTicks, yMin: 0.65, yMax: 0.668, padTop: 6, auto: albAuto,
    ageSteps: albAgeSteps, ageMarks: albAgeMarks, ageboSteps: albAgeboSteps, ageboMarks: albAgeboMarks,
    agePts: albAgePts, ageboPts: albAgeboPts, keys: ['age', 'agebo', 'auto'] });
  makePanel('covertype', { yTicks: covYTicks, yMin: 0.72, yMax: 0.93, padTop: 14, auto: covAuto,
    ageSteps: covAgeSteps, ageMarks: covAgeMarks, ageboSteps: covAgeboSteps, ageboMarks: covAgeboMarks,
    agePts: covAgePts, ageboPts: covAgeboPts, keys: ['age', 'agebo', 'auto'] });
  makePanel('dionis', { yTicks: dioYTicks, yMin: 0.80, yMax: 0.91, padTop: 14, auto: dioAuto,
    ageSteps: dioAgeSteps, ageMarks: dioAgeMarks, ageboSteps: dioAgeboSteps, ageboMarks: dioAgeboMarks,
    agePts: dioAgePts, ageboPts: dioAgeboPts, keys: ['agebo', 'age', 'auto'] });
</script>
</body>
</html>
